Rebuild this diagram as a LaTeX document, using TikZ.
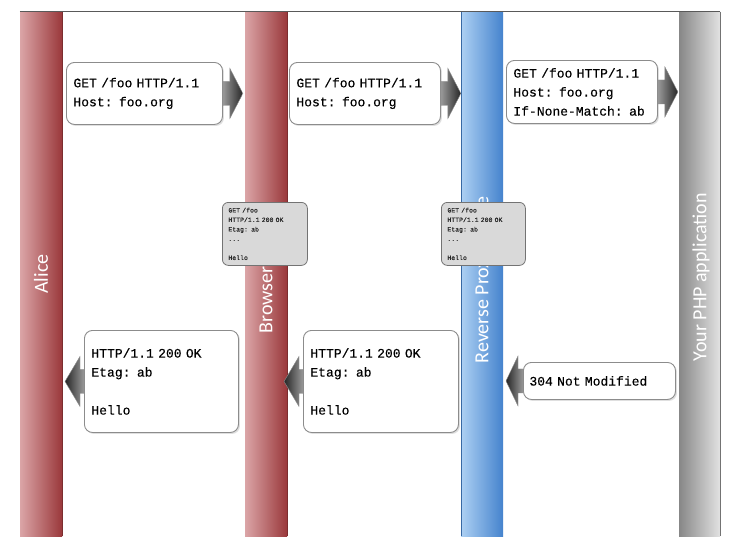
\documentclass[tikz,border=0pt]{standalone}
\usepackage{fontspec}
\setmainfont{Carlito}
\setmonofont{Liberation Mono}[FakeBold=0.3]
\usetikzlibrary{shadows,calc}
\definecolor{redL}{HTML}{DBA5A7}
\definecolor{redR}{HTML}{9A383B}
\definecolor{blueL}{HTML}{ADD0F3}
\definecolor{blueR}{HTML}{4583CD}
\definecolor{grayL}{HTML}{878787}
\definecolor{grayR}{HTML}{E2E2E2}
\newcommand\monosize[2]{\ttfamily\fontsize{#1}{#2}\selectfont}
\newcommand\rightarr[1]{%
  \shade[arr,left color=black!40,right color=black!85]
  ($(#1.east)+(0,-12)$) -- ++(7,0) -- ++(0,-13) -- ++(13,25) -- ++(-13,25) -- ++(0,-13) -- ++(-7,0) -- cycle;}
\newcommand\leftarr[3]{%
  \shade[arr,left color=black!85,right color=black!40]
  ($(#1.west)+(0,-12)$) -- ++(-#2,0) -- ++(0,-13) -- ++(-#3,25) -- ++(#3,25) -- ++(0,-13) -- ++(#2,0) -- cycle;}
\begin{document}
\begin{tikzpicture}[x=1pt,y=-1pt,
  bar/.style={draw=none,inner sep=0pt,minimum height=524pt},
  lbl/.style={text=white,font=\fontsize{20}{20}\selectfont,rotate=90,inner sep=0pt},
  msg/.style={draw=black!45,line width=0.9pt,fill=white,rounded corners=8pt,anchor=north west,
    align=left,inner xsep=7pt,inner ysep=0pt,font=\monosize{13}{19},text=black,
    drop shadow={shadow xshift=1.5pt,shadow yshift=-1.5pt,opacity=0.25}},
  cache/.style={draw=black!55,line width=0.8pt,fill=black!15,rounded corners=6pt,anchor=north west,
    align=left,inner xsep=6pt,inner ysep=0pt,font=\monosize{6.5}{9.5},text=black!85},
  arr/.style={draw=black!45,line width=0.4pt}]
\useasboundingbox (0,0) rectangle (746,551);
\fill[white] (0,0) rectangle (746,551);
% lifelines
\node[bar,minimum width=42pt,left color=redL,right color=redR] (alice) at (41,274) {};
\node[bar,minimum width=42pt,left color=redL,right color=redR] (browser) at (266,274) {};
\node[bar,minimum width=42pt,left color=blueL,right color=blueR] (proxy) at (482,274) {};
\node[bar,minimum width=41pt,left color=grayL,right color=grayR] (php) at (699.5,274) {};
\draw[redR!80!black,line width=0.8pt] (alice.north east) -- (alice.south east);
\draw[redR!80!black,line width=0.8pt] (browser.north east) -- (browser.south east);
\draw[blueR!80!black,line width=0.6pt] (proxy.north west) -- (proxy.south west);
\draw[black!55,line width=1pt] (php.north east) -- (php.south east);
\draw[black!65,line width=1.2pt] (alice.north west) -- (php.north east);
% labels
\node[lbl] (lalice) at (41,274) {Alice};
\node[lbl] (lbrowser) at (266,300) {Browser};
\node[lbl] (lproxy) at (483,280) {Reverse Proxy Cache};
\node[lbl] (lphp) at (701,277) {Your PHP application};
% message boxes
\node[msg,minimum width=156pt,minimum height=62pt,text width=142pt] (m1) at (66,62) {GET /foo HTTP/1.1\\Host: foo.org};
\node[msg,minimum width=151pt,minimum height=62pt,text width=137pt] (m2) at (289,62) {GET /foo HTTP/1.1\\Host: foo.org};
\node[msg,minimum width=151pt,minimum height=63pt,text width=137pt] (m3) at (506,60) {GET /foo HTTP/1.1\\Host: foo.org\\If-None-Match: ab};
\node[msg,minimum width=154pt,minimum height=102pt,text width=140pt] (m4) at (84,330) {HTTP/1.1 200 OK\\Etag: ab\\\mbox{}\\Hello};
\node[msg,minimum width=155pt,minimum height=102pt,text width=141pt] (m5) at (303,330) {HTTP/1.1 200 OK\\Etag: ab\\\mbox{}\\Hello};
\node[msg,minimum width=152pt,minimum height=37pt,text width=140pt,inner xsep=6pt] (m6) at (523,362) {304 Not Modified};
% arrows
\rightarr{m1}
\rightarr{m2}
\rightarr{m3}
\leftarr{m4}{4}{15}
\leftarr{m5}{4}{15}
\leftarr{m6}{5}{12}
% cached copies
\node[cache,minimum width=85pt,minimum height=63pt,text width=73pt] (c1) at (222,202) {GET /foo\\HTTP/1.1 200 OK\\Etag: ab\\...\\\mbox{}\\Hello};
\node[cache,minimum width=84pt,minimum height=63pt,text width=72pt] (c2) at (441,202) {GET /foo\\HTTP/1.1 200 OK\\Etag: ab\\...\\\mbox{}\\Hello};
\end{tikzpicture}
\end{document}
